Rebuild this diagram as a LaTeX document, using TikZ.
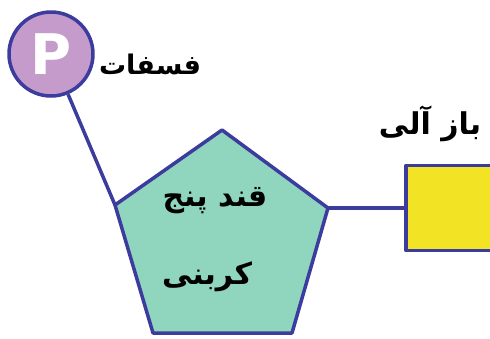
\documentclass[tikz,border=0pt]{standalone}
\usepackage{fontspec}
\setsansfont{DejaVu Sans}
\newfontfamily\arabicfont[Script=Arabic]{DejaVu Sans}
\TeXXeTstate=1
\usetikzlibrary{positioning}
\definecolor{linkblue}{HTML}{3B3C9E}
\definecolor{phosfill}{HTML}{C49BCB}
\definecolor{sugarfill}{HTML}{90D5BE}
\definecolor{basefill}{HTML}{F2E424}

\begin{document}
\begin{tikzpicture}[x=1pt,
                    y=-1pt,
                    line width=3.5pt,
                    line join=round,
                    lbl/.style={font=\arabicfont\bfseries\fontsize{30}{34}\selectfont, inner sep=0pt},
                    phs/.style={circle, draw=linkblue, fill=phosfill, minimum size=84pt, inner sep=0pt},
                    bse/.style={rectangle, draw=linkblue, fill=basefill, minimum width=86pt, minimum height=85pt}
                    ]
  \useasboundingbox (0,0) rectangle (490,338);
  % sugar corners
  \coordinate (st) at (222,130);
  \coordinate (sr) at (328,208);
  \coordinate (sbr) at (292,333);
  \coordinate (sbl) at (153,333);
  \coordinate (sl) at (115,205);
  \node[phs] (phos) at (51,54) {\sffamily\bfseries\fontsize{56}{56}\selectfont\color{white}P};
  \node[bse] (base) at (449,208) {};
  \draw[linkblue] (phos) -- (sl);
  \draw[linkblue] (sr) -- (base);
  \draw[draw=linkblue, fill=sugarfill] (st) -- (sr) -- (sbr) -- (sbl) -- (sl) -- cycle;
  \node[lbl, font=\arabicfont\bfseries\fontsize{27}{30}\selectfont] (phoslbl) at (150,64) {\beginR فسفات\endR};
  \node[lbl] (baselbl) at (430,124) {\beginR باز آلی\endR};
  \node[lbl] (sugar1) at (215,201) {\beginR قند پنج\endR};
  \node[lbl] (sugar2) at (207,277) {\beginR کربنی\endR};
\end{tikzpicture}
\end{document}
